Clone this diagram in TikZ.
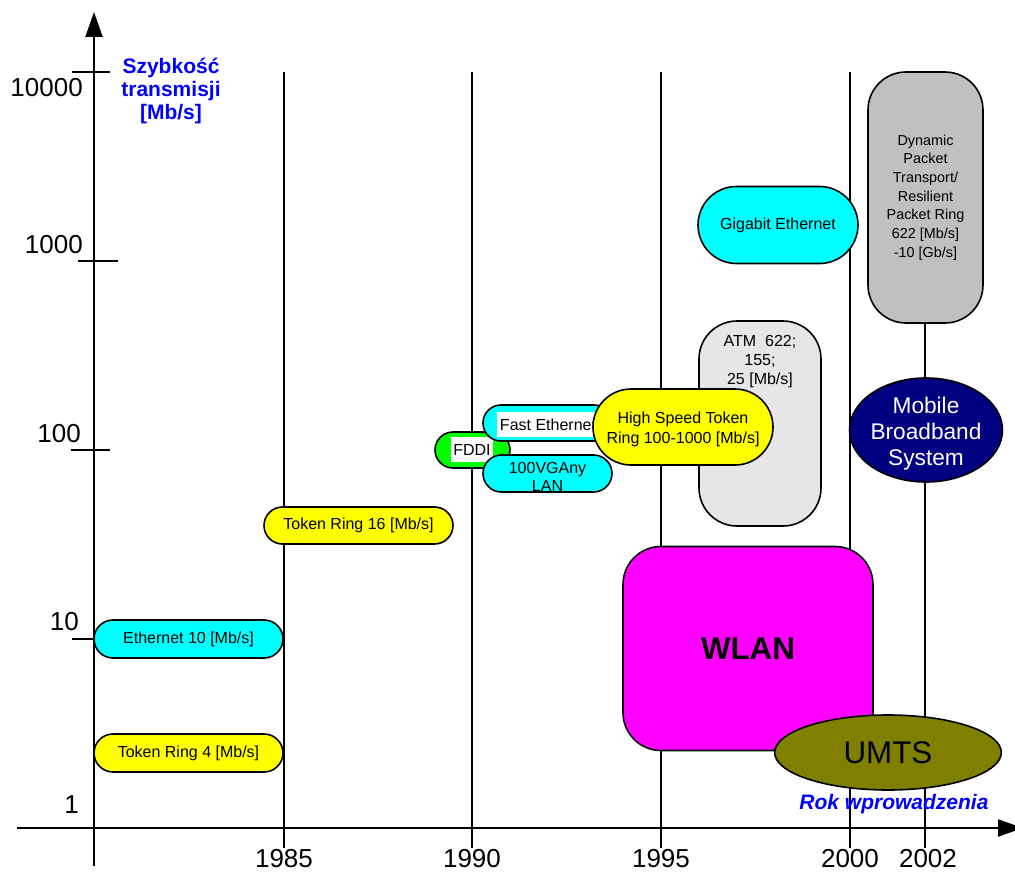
\documentclass[tikz,border=0pt]{standalone}
\usepackage{fontspec}
\setmainfont{Liberation Sans}
\usetikzlibrary{arrows.meta,shapes.misc,shapes.geometric}

\definecolor{lancyan}{HTML}{00FFFF}
\definecolor{lanyellow}{HTML}{FFFF00}
\definecolor{langreen}{HTML}{00FF00}
\definecolor{atmgray}{HTML}{E6E6E6}
\definecolor{dptgray}{HTML}{C0C0C0}
\definecolor{mbsnavy}{HTML}{000080}
\definecolor{wlanmagenta}{HTML}{FF00FF}
\definecolor{umtsolive}{HTML}{808000}
\definecolor{axisblue}{HTML}{0000FF}

\begin{document}
\begin{tikzpicture}[x=0.75pt,y=-0.75pt,
  axisline/.style={line width=1.5pt},
  gridline/.style={line width=1.1pt},
  headtip/.style={-{Triangle[length=18.75pt,width=12.75pt]}},
  pill/.style={rounded rectangle, draw, line width=1.2pt, inner sep=0pt,
    align=center, font=\fontsize{12}{14.5}\selectfont},
  roundbox/.style={rectangle, rounded corners=28.5pt, draw, line width=1.2pt,
    inner sep=0pt, align=center},
  oval/.style={ellipse, draw, line width=1.2pt, inner sep=0pt, align=center},
  whitelbl/.style={fill=white, inner xsep=2pt, inner ysep=0pt,
    minimum height=18.75pt, font=\fontsize{12}{14.5}\selectfont},
  plainlbl/.style={inner sep=0pt, align=center, font=\fontsize{12}{14.5}\selectfont},
  ticklbl/.style={inner sep=0pt, font=\fontsize{19.5}{22}\selectfont},
  axtitle/.style={inner sep=0pt, text=axisblue, align=center,
    font=\bfseries\fontsize{15.75}{17.6}\selectfont}]

\useasboundingbox (0,0) rectangle (1015,874);

% year grid lines
\foreach \gx in {284,472,661,850,925}
  \draw[gridline] (\gx,72) -- (\gx,848);

% axes
\draw[axisline,headtip] (94,866) -- (94,12);
\draw[axisline,headtip] (17,828) -- (1023,828);

% speed ticks
\draw[gridline] (72,72) -- (110,72);
\draw[gridline] (78,261) -- (118,261);
\draw[gridline] (71,450) -- (110,450);
\draw[gridline] (72,639) -- (94,639);

% speed labels
\node[ticklbl,anchor=east] (s10000) at (83,88) {10000};
\node[ticklbl,anchor=east] (s1000) at (83,245) {1000};
\node[ticklbl,anchor=east] (s100) at (81,434) {100};
\node[ticklbl,anchor=east] (s10) at (79,622) {10};
\node[ticklbl,anchor=east] (s1) at (79,805) {1};

% year labels
\node[ticklbl] (y1985) at (284,859) {1985};
\node[ticklbl] (y1990) at (472,859) {1990};
\node[ticklbl] (y1995) at (661,859) {1995};
\node[ticklbl] (y2000) at (850,859) {2000};
\node[ticklbl] (y2002) at (928,859) {2002};

% axis titles
\node[axtitle] (vtitle) at (171,91) {Szybkość\\transmisji\\{}[Mb/s]\hspace{11pt}};
\node[axtitle,font=\bfseries\itshape\fontsize{15.75}{17.6}\selectfont] (htitle) at (894,804) {Rok wprowadzenia};

% technologies
\node[pill,fill=lancyan,minimum width=141.75pt,minimum height=28.5pt] (eth10) at (188.5,639) {Ethernet 10 [Mb/s]};
\node[pill,fill=lanyellow,minimum width=141.75pt,minimum height=28.5pt] (tr4) at (188.5,753) {Token Ring 4 [Mb/s]};
\node[pill,fill=lanyellow,minimum width=141.75pt,minimum height=27.75pt] (tr16) at (358.5,525.5) {Token Ring 16 [Mb/s]};

\node[pill,fill=langreen,minimum width=56.25pt,minimum height=27pt] (fddi) at (472.5,450) {};
\node[whitelbl] (fdditxt) at (472,449.5) {FDDI};

\node[pill,fill=lancyan,minimum width=96.75pt,minimum height=27pt] (fasteth) at (547.5,423) {};
\node[whitelbl] (fastethtxt) at (548,424.5) {Fast Ethernet};

\node[pill,fill=lancyan,minimum width=96.75pt,minimum height=27.75pt] (vgany) at (547.5,473.5) {};
\node[plainlbl,font=\fontsize{12}{13.5}\selectfont] (vganytxt) at (547.5,476.5) {100VGAny\\LAN};

\node[roundbox,fill=atmgray,minimum width=91.5pt,minimum height=153.75pt] (atm) at (760,423.5) {};
\node[plainlbl] (atmtxt) at (760,361.5) {ATM\ \ 622;\\155;\\25 [Mb/s]};

\node[pill,fill=lanyellow,minimum width=135pt,minimum height=57pt] (hstr) at (683,427) {};
\node[plainlbl] (hstrtxt) at (683,429.5) {High Speed Token\\Ring 100-1000 [Mb/s]};

\node[pill,fill=lancyan,minimum width=120pt,minimum height=57.75pt] (gbe) at (778,225) {Gigabit Ethernet};

\node[roundbox,fill=dptgray,minimum width=86.25pt,minimum height=188.25pt,
  font=\fontsize{10.8}{14}\selectfont] (dpt) at (925.5,197.5)
  {Dynamic\\Packet\\Transport/\\Resilient\\Packet Ring\\622 [Mb/s]\\-10 [Gb/s]};

\node[oval,fill=mbsnavy,minimum width=114.75pt,minimum height=78pt] (mbs) at (926,430) {};
\node[plainlbl,text=white,font=\fontsize{17}{19.5}\selectfont] (mbstxt) at (926,434) {Mobile\\Broadband\\System};

\node[roundbox,fill=wlanmagenta,minimum width=187.5pt,minimum height=153pt,
  font=\bfseries\fontsize{23.5}{26}\selectfont] (wlan) at (748,648.5) {WLAN};

\node[oval,fill=umtsolive,minimum width=170pt,minimum height=56.25pt,
  font=\fontsize{23.5}{26}\selectfont] (umts) at (888,752.5) {UMTS};

\end{tikzpicture}
\end{document}
